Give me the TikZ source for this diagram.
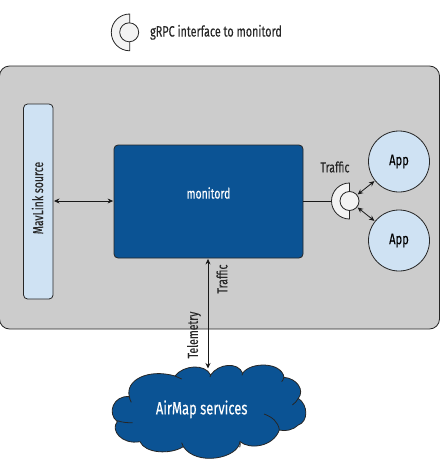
\documentclass[tikz,border=0pt]{standalone}
\usepackage{fontspec}
\setmainfont[FakeStretch=0.72,FakeBold=0.2]{Fira Sans}
\usetikzlibrary{arrows.meta}
\definecolor{panelgray}{HTML}{CCCCCC}
\definecolor{lightblue}{HTML}{CFE2F3}
\definecolor{darkblue}{HTML}{0B5394}
\definecolor{lightgray}{HTML}{F3F3F3}
\tikzset{
  bluebox/.style={draw=black!85,line width=0.8pt,rounded corners=4pt,inner sep=0pt},
  appnode/.style={circle,draw=black!85,line width=0.8pt,fill=lightblue,minimum size=61pt,inner sep=0pt,font=\fontsize{15.5}{17}\selectfont},
  plug/.style={circle,draw=black!85,line width=0.8pt,fill=lightgray,minimum size=19pt,inner sep=0pt},
  socket/.style={draw=black!85,line width=0.8pt,fill=lightgray},
  label/.style={font=\fontsize{14.5}{17}\selectfont,text=black!85,inner sep=0pt},
  link/.style={line width=0.8pt,black!90},
  twoway/.style={link,{Stealth[length=5.5pt,width=5pt]}-{Stealth[length=5.5pt,width=5pt]},shorten <=0.5pt,shorten >=0.5pt}
}
\begin{document}
\begin{tikzpicture}[x=1pt,y=-1pt]
    \useasboundingbox (0,0) rectangle (441,461);
    % legend
    \draw[socket] (129.7,14) arc[start angle=90,end angle=270,radius=18.4pt] -- cycle;
    \node[plug] (legendplug) at (129.2,32.3) {};
    \node[label,anchor=west,font=\fontsize{15}{17}\selectfont] (legendtext) at (150,32.3) {gRPC interface to monitord};
    % panel
    \node[draw=black!85,line width=0.8pt,fill=panelgray,rounded corners=10pt,minimum width=440pt,minimum height=263pt,inner sep=0pt] (panel) at (219.5,197.5) {};
    \node[bluebox,fill=lightblue,minimum width=29.5pt,minimum height=195pt] (mavlink) at (38.3,201.5) {};
    \node[label,rotate=90] (mavlinktext) at (37.5,198) {MavLink source};
    \node[bluebox,fill=darkblue,minimum width=189pt,minimum height=113pt] (monitord) at (208.5,201.5) {};
    \node[text=white,font=\fontsize{14.5}{17}\selectfont,inner sep=0pt] (monitordtext) at (208.5,193) {monitord};
    \node[appnode] (appone) at (399,161.5) {App};
    \node[appnode] (apptwo) at (399,240.5) {App};
    % interface
    \coordinate (socketback) at (331,201);
    \draw[socket] (349.5,183) arc[start angle=90,end angle=270,radius=18pt] -- cycle;
    \node[plug] (trafficplug) at (349.5,201) {};
    \node[label] (traffictop) at (335,167) {Traffic};
    \draw[link] (monitord.east |- socketback) -- (socketback);
    \draw[twoway] (trafficplug) -- (appone);
    \draw[twoway] (trafficplug) -- (apptwo);
    \draw[twoway] (mavlink.east |- socketback) -- (monitord.west |- socketback);
    % cloud
    \begin{scope}[shift={(90,250)},scale=1/3]
      \draw[draw=black!85,line width=0.8pt,fill=darkblue]
        (118,440) .. controls (105,390) and (175,355) .. (255,378)
        .. controls (280,345) and (345,340) .. (362,375)
        .. controls (385,340) and (445,335) .. (458,370)
        .. controls (480,335) and (575,335) .. (582,382)
        .. controls (620,385) and (645,420) .. (625,445)
        .. controls (655,465) and (655,515) .. (625,525)
        .. controls (610,540) and (585,545) .. (568,540)
        .. controls (550,590) and (480,600) .. (450,575)
        .. controls (445,625) and (320,650) .. (280,590)
        .. controls (240,615) and (165,610) .. (150,575)
        .. controls (95,585) and (60,540) .. (82,515)
        .. controls (50,490) and (70,435) .. (118,440) -- cycle;
      \draw[draw=black!85,line width=0.8pt]
        (82,512) .. controls (95,517) and (115,519) .. (128,518)
        (118,440) .. controls (119,447) and (121,452) .. (124,457)
        (255,378) .. controls (262,381) and (268,384) .. (275,387)
        (362,375) -- (360,381)
        (458,370) -- (456,376)
        (582,382) .. controls (580,388) and (578,392) .. (575,395)
        (625,445) .. controls (620,453) and (615,460) .. (607,465)
        (568,540) .. controls (565,515) and (545,500) .. (522,492)
        (450,575) .. controls (451,583) and (451,587) .. (449,592)
        (280,590) -- (275,578);
      \node[text=white,font=\fontsize{18}{20}\selectfont,inner sep=0pt] (airmap) at (335,478) {AirMap services};
    \end{scope}
    \coordinate (cloudtop) at (208,369);
    \draw[twoway] (monitord.south -| cloudtop) -- (cloudtop);
    \node[label,rotate=90] (trafficside) at (222,279) {Traffic};
    \node[label,rotate=90] (telemetry) at (194,335) {Telemetry};
\end{tikzpicture}
\end{document}
